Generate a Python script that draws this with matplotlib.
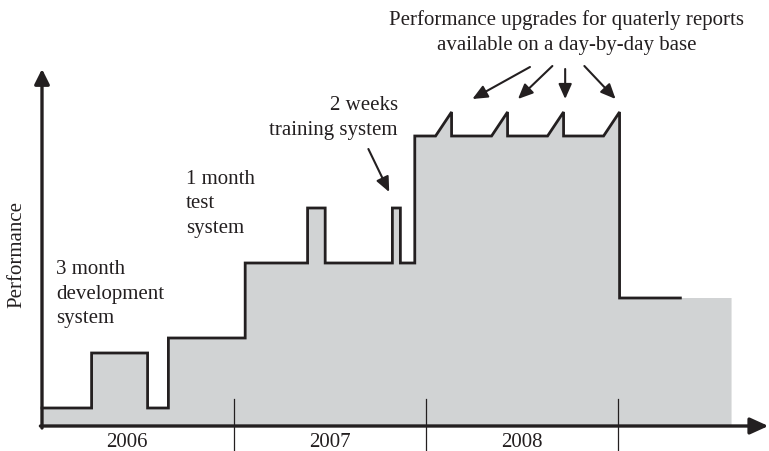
import matplotlib.pyplot as plt

# time in months from start of 2006, performance in arbitrary units
step_start = [0, 3.1, 6.6, 7.9, 12.7, 16.6, 17.7, 21.9, 22.4, 23.3, 36.1]
step_level = [1.8, 7.3, 1.8, 8.8, 16.3, 21.8, 16.3, 21.8, 16.3, 29.0, 12.8]
line_end = 39.9
fill_end = 43.1

# quarterly upgrade teeth on the production level
tooth_start = [24.6, 28.1, 31.6, 35.1]
tooth_peak = [25.6, 29.1, 32.6, 36.1]
tooth_level = 31.4

year_ticks = [12, 24, 36]
years = ['2006', '2007', '2008']
year_pos = [5.3, 18, 30]

INK = '#231f20'
GREY = '#d1d3d4'
FS = 15
LS = 1.38

plt.rcParams['font.family'] = ['Liberation Serif', 'DejaVu Serif']

# build the outline of the step curve
xs, ys = [step_start[0]], [step_level[0]]
for i in range(1, len(step_start)):
    xs.append(step_start[i]); ys.append(step_level[i - 1])
    if step_level[i - 1] == 29.0:
        # insert the teeth into the top plateau
        xs.pop(); ys.pop()
        for a, b in zip(tooth_start, tooth_peak):
            xs += [a, b, b]
            ys += [step_level[i - 1], tooth_level, step_level[i - 1]]
    xs.append(step_start[i]); ys.append(step_level[i])
xs.append(line_end); ys.append(step_level[-1])

fig = plt.figure(figsize=(7.69, 4.52), dpi=100)
ax = fig.add_axes([0, 0, 1, 1])
ax.set_xlim(-2.625, 45.44)
ax.set_ylim(-2.5, 42.7)
ax.axis('off')

# grey area under the curve, running on past the end of the line
px = [0] + xs[:-1] + [fill_end, fill_end]
py = [0] + ys[:-1] + [step_level[-1], 0]
ax.fill(px, py, color=GREY, lw=0, zorder=1)
ax.plot(xs, ys, color=INK, lw=2.0, solid_joinstyle='miter', zorder=3)

# year separators and labels
for t in year_ticks:
    ax.plot([t, t], [2.7, -2.6], color=INK, lw=0.9, zorder=2)
for x, s in zip(year_pos, years):
    ax.text(x, -1.6, s, ha='center', va='center', fontsize=FS, color=INK)

# axes with arrow heads
ax.annotate('', xy=(45.4, 0), xytext=(-0.1, 0),
            arrowprops=dict(arrowstyle='-|>,head_length=1.1,head_width=0.5',
                            color=INK, lw=2.4, shrinkA=0, shrinkB=0), zorder=4)
ax.annotate('', xy=(0, 35.7), xytext=(0, -0.2),
            arrowprops=dict(arrowstyle='-|>,head_length=0.9,head_width=0.45',
                            color=INK, lw=2.4, shrinkA=0, shrinkB=0), zorder=4)
ax.text(-1.55, 17.3, 'Performance', rotation=90, ha='center', va='center',
        fontsize=FS, color=INK)

# annotations
ax.text(0.9, 13.3, '3 month\ndevelopment\nsystem', ha='left', va='center',
        fontsize=FS, color=INK, linespacing=LS)
ax.text(9.0, 22.3, '1 month\ntest\nsystem', ha='left', va='center',
        fontsize=FS, color=INK, linespacing=LS)
ax.text(22.25, 30.9, '2 weeks\ntraining system', ha='right', va='center',
        fontsize=FS, color=INK, linespacing=LS)
ax.text(32.8, 39.45, 'Performance upgrades for quaterly reports\navailable on a day-by-day base',
        ha='center', va='center', fontsize=FS, color=INK, linespacing=LS)

arrow = dict(arrowstyle='-|>,head_length=0.9,head_width=0.4', color=INK,
             lw=1.5, shrinkA=0, shrinkB=0)
ax.annotate('', xy=(21.7, 23.4), xytext=(20.4, 27.7), arrowprops=arrow)
for (x0, y0), (x1, y1) in [((30.5, 35.9), (26.9, 32.7)),
                           ((31.9, 36.0), (29.75, 32.7)),
                           ((32.7, 35.7), (32.7, 32.7)),
                           ((33.9, 36.0), (35.85, 32.7))]:
    ax.annotate('', xy=(x1, y1), xytext=(x0, y0), arrowprops=arrow)

fig.savefig('out.png', dpi=100, facecolor='white')
